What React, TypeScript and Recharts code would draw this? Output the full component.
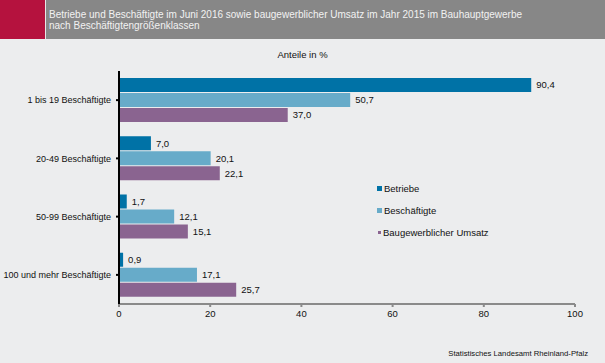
import { BarChart, Bar, XAxis, YAxis, LabelList } from 'recharts';

const kategorien = ['1 bis 19 Beschäftigte', '20-49 Beschäftigte', '50-99 Beschäftigte', '100 und mehr Beschäftigte'];
const betriebe = [90.4, 7.0, 1.7, 0.9];
const beschaeftigte = [50.7, 20.1, 12.1, 17.1];
const umsatz = [37.0, 22.1, 15.1, 25.7];
const xTicks = [0, 20, 40, 60, 80, 100];

const serien = [
  { key: 'betriebe', name: 'Betriebe', farbe: '#0072a6' },
  { key: 'beschaeftigte', name: 'Beschäftigte', farbe: '#67abc9' },
  { key: 'umsatz', name: 'Baugewerblicher Umsatz', farbe: '#8a6490' },
];

const dados = kategorien.map((k, i) => ({
  kategorie: k,
  betriebe: betriebe[i],
  beschaeftigte: beschaeftigte[i],
  umsatz: umsatz[i],
}));

const fonte = 'Liberation Sans, Arial, sans-serif';
const komma = (v: any) => Number(v).toFixed(1).replace('.', ',');

function KategorieTick({ x, y, payload }: any) {
  return (
    <text x={x} y={y} dy={3.3} textAnchor="end" fontSize={9} fill="#111" fontFamily={fonte}>
      {payload.value}
    </text>
  );
}

export default function App() {
  return (
    <div style={{ position: 'fixed', left: 0, top: 0, width: 605, height: 363, background: '#ecedee', fontFamily: fonte }}>
      <div style={{ position: 'absolute', left: 0, top: 0, width: 605, height: 39, background: '#878787' }} />
      <div style={{ position: 'absolute', left: 0, top: 0, width: 45, height: 39, background: '#b5123e' }} />
      <div style={{ position: 'absolute', left: 45, top: 0, width: 1, height: 39, background: '#e8e8e8' }} />
      <div style={{ position: 'absolute', left: 49, top: 8.5, fontSize: 10, lineHeight: '11px', color: '#f2f2f2', whiteSpace: 'nowrap' }}>
        Betriebe und Beschäftigte im Juni 2016 sowie baugewerblicher Umsatz im Jahr 2015 im Bauhauptgewerbe
        <br />
        nach Beschäftigtengrößenklassen
      </div>
      <div style={{ position: 'absolute', left: 0, width: 605, top: 49, textAlign: 'center', fontSize: 9.5, color: '#111' }}>
        Anteile in %
      </div>
      <div style={{ position: 'absolute', right: 17, top: 349, fontSize: 7.7, color: '#111', whiteSpace: 'nowrap' }}>
        Statistisches Landesamt Rheinland-Pfalz
      </div>
      <div style={{ position: 'absolute', left: 377, top: 177, fontSize: 9.5, color: '#111', whiteSpace: 'nowrap' }}>
        {serien.map((s, i) => (
          <div key={s.key} style={{ display: 'flex', alignItems: 'center', height: 22 }}>
            <span
              style={{
                display: 'inline-block',
                width: i === 2 ? 3 : 5,
                height: i === 2 ? 3 : 5,
                background: s.farbe,
                marginRight: 2,
                marginLeft: i === 2 ? 1 : 0,
              }}
            />
            {s.name}
          </div>
        ))}
      </div>
      <div style={{ position: 'absolute', left: 0, top: 0 }}>
        <BarChart
          width={605}
          height={363}
          data={dados}
          layout="vertical"
          margin={{ top: 71, right: 30, bottom: 29, left: 0 }}
          barCategoryGap="12%"
          barGap={1}
        >
          <XAxis
            type="number"
            domain={[0, 100]}
            ticks={xTicks}
            height={30}
            axisLine={{ stroke: '#8a8a8a', strokeWidth: 2 }}
            tickLine={{ stroke: '#8a8a8a', strokeWidth: 2 }}
            tickSize={3}
            tick={{ fontSize: 9.5, fill: '#111', fontFamily: fonte }}
            tickMargin={3}
          />
          <YAxis
            type="category"
            dataKey="kategorie"
            width={119}
            axisLine={{ stroke: '#000', strokeWidth: 2 }}
            tickLine={{ stroke: '#000', strokeWidth: 2 }}
            tickSize={3}
            tickMargin={5}
            tick={<KategorieTick />}
          />
          {serien.map((s) => (
            <Bar key={s.key} dataKey={s.key} name={s.name} fill={s.farbe} isAnimationActive={false}>
              <LabelList dataKey={s.key} position="right" offset={5} formatter={komma} style={{ fontSize: 9.5, fill: '#111', fontFamily: fonte }} />
            </Bar>
          ))}
        </BarChart>
      </div>
    </div>
  );
}
